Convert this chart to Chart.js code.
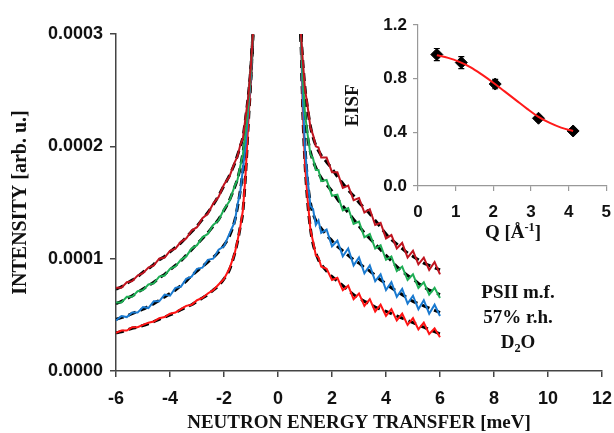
<!DOCTYPE html>
<html>
<head>
<meta charset="utf-8">
<script src="https://cdn.jsdelivr.net/npm/chart.js@4.4.0/dist/chart.umd.min.js"></script>
<style>
  body { margin: 0; background: #fff; }
  #wrap { position: relative; width: 614px; height: 433px; overflow: hidden; }
  #main { position: absolute; left: 0; top: 0; }
  #inset { position: absolute; left: 330px; top: 0; }
  .lbl { position: absolute; font-family: "Liberation Serif", "Times New Roman", serif; font-weight: bold; color: #111; text-align: center; white-space: nowrap; }
  .lbl sup { font-size: 0.65em; line-height: 0; vertical-align: 0.55em; }
  .lbl sub { font-size: 0.65em; line-height: 0; vertical-align: -0.3em; }
</style>
</head>
<body>
<div id="wrap">
  <canvas id="main" width="623" height="433"></canvas>
  <canvas id="inset" width="292" height="250"></canvas>
  <div class="lbl" style="left:453px; top:221px; width:120px; font-size:19px;">Q [Å<sup>-1</sup>]</div>
  <div class="lbl" style="left:448px; top:279px; width:140px; font-size:19px; line-height:25px;">PSII m.f.<br>57% r.h.<br>D<sub>2</sub>O</div>
</div>
<script>
// intensities are in units of 1e-4 (arb. u.)
const UNIT = 1e-4;

// energy transfer grids [meV]
const eLeft = [-6.0, -5.8, -5.6, -5.4, -5.2, -5.0, -4.8, -4.6, -4.4, -4.2, -4.0, -3.8, -3.6, -3.4, -3.2,
               -3.0, -2.8, -2.6, -2.4, -2.2, -2.0, -1.8, -1.6, -1.5, -1.4, -1.3, -1.2, -1.1, -1.0, -0.93];
const eRight = [0.85, 0.92, 1.0, 1.1, 1.2, 1.3, 1.4, 1.5, 1.6, 1.8, 2.0, 2.2, 2.4, 2.6, 2.8, 3.0,
                3.2, 3.4, 3.6, 3.8, 4.0, 4.2, 4.4, 4.6, 4.8, 5.0, 5.2, 5.4, 5.6, 5.8, 6.0];

// measured spectra
const darkRedLeft = [0.74, 0.74, 0.79, 0.80, 0.85, 0.87, 0.92, 0.94, 1.00, 1.01, 1.07, 1.09, 1.15, 1.18, 1.25,
                     1.28, 1.36, 1.40, 1.49, 1.55, 1.66, 1.73, 1.86, 1.91, 2.01, 2.07, 2.26, 2.44, 2.73, 3.0];
const greenLeft = [0.61, 0.61, 0.66, 0.66, 0.71, 0.72, 0.77, 0.78, 0.84, 0.85, 0.91, 0.93, 0.99, 1.02, 1.09,
                   1.12, 1.19, 1.22, 1.30, 1.34, 1.44, 1.51, 1.65, 1.70, 1.82, 1.93, 2.13, 2.37, 2.69, 3.0];
const blueLeft = [0.45, 0.49, 0.48, 0.52, 0.52, 0.57, 0.56, 0.62, 0.62, 0.68, 0.67, 0.74, 0.75, 0.82, 0.84,
                  0.91, 0.92, 0.99, 1.00, 1.08, 1.11, 1.22, 1.33, 1.48, 1.59, 1.80, 2.01, 2.33, 2.64, 3.0];
const redLeft = [0.34, 0.36, 0.36, 0.39, 0.39, 0.41, 0.43, 0.44, 0.47, 0.48, 0.51, 0.52, 0.55, 0.58, 0.59,
                 0.63, 0.65, 0.69, 0.72, 0.77, 0.82, 0.91, 1.05, 1.16, 1.28, 1.43, 1.75, 2.21, 2.62, 3.0];

const darkRedRight = [3.0, 2.76, 2.51, 2.35, 2.17, 2.10, 2.00, 1.99, 1.90, 1.90, 1.77, 1.77, 1.63, 1.65, 1.52, 1.54,
                      1.41, 1.44, 1.30, 1.32, 1.18, 1.21, 1.09, 1.14, 1.01, 1.07, 0.95, 1.01, 0.90, 0.97, 0.86];
const greenRight = [3.0, 2.61, 2.29, 2.10, 1.93, 1.89, 1.79, 1.79, 1.69, 1.70, 1.56, 1.57, 1.43, 1.45, 1.31, 1.33,
                    1.19, 1.22, 1.09, 1.12, 0.99, 1.02, 0.89, 0.93, 0.81, 0.86, 0.74, 0.79, 0.68, 0.74, 0.65];
const blueRight = [3.0, 2.42, 1.98, 1.70, 1.47, 1.44, 1.30, 1.34, 1.23, 1.26, 1.11, 1.16, 1.02, 1.09, 0.94, 1.01,
                   0.87, 0.94, 0.80, 0.86, 0.72, 0.79, 0.66, 0.73, 0.60, 0.67, 0.55, 0.63, 0.51, 0.59, 0.49];
const redRight = [3.0, 2.31, 1.84, 1.52, 1.26, 1.15, 1.03, 1.01, 0.93, 0.91, 0.81, 0.83, 0.72, 0.76, 0.64, 0.69,
                  0.58, 0.64, 0.53, 0.59, 0.49, 0.55, 0.45, 0.51, 0.41, 0.47, 0.37, 0.43, 0.33, 0.38, 0.30];

// fitted curves (dashed)
const fitDarkRedLeft = [0.73, 0.75, 0.78, 0.81, 0.84, 0.88, 0.91, 0.95, 0.99, 1.02, 1.06, 1.10, 1.14, 1.19, 1.24,
                        1.29, 1.35, 1.41, 1.48, 1.56, 1.65, 1.74, 1.85, 1.92, 2.00, 2.08, 2.25, 2.45, 2.72, 3.0];
const fitGreenLeft = [0.60, 0.62, 0.645, 0.67, 0.70, 0.73, 0.76, 0.79, 0.83, 0.86, 0.90, 0.94, 0.98, 1.03, 1.08,
                      1.13, 1.18, 1.23, 1.29, 1.35, 1.43, 1.52, 1.64, 1.71, 1.81, 1.94, 2.12, 2.38, 2.68, 3.0];
const fitBlueLeft = [0.46, 0.475, 0.49, 0.51, 0.53, 0.55, 0.575, 0.60, 0.63, 0.66, 0.69, 0.72, 0.76, 0.80, 0.85,
                     0.89, 0.93, 0.97, 1.01, 1.06, 1.12, 1.20, 1.34, 1.46, 1.60, 1.78, 2.02, 2.32, 2.65, 3.0];
const fitRedLeft = [0.34, 0.35, 0.365, 0.38, 0.39, 0.405, 0.42, 0.44, 0.46, 0.48, 0.50, 0.52, 0.545, 0.57, 0.59,
                    0.62, 0.65, 0.68, 0.72, 0.76, 0.82, 0.90, 1.05, 1.15, 1.28, 1.42, 1.75, 2.20, 2.62, 3.0];

const fitDarkRedRight = [3.0, 2.75, 2.52, 2.33, 2.18, 2.08, 2.01, 1.96, 1.92, 1.86, 1.80, 1.73, 1.67, 1.61, 1.56, 1.50,
                         1.45, 1.40, 1.34, 1.28, 1.22, 1.17, 1.13, 1.09, 1.05, 1.02, 0.99, 0.96, 0.94, 0.92, 0.90];
const fitGreenRight = [3.0, 2.6, 2.3, 2.08, 1.95, 1.87, 1.81, 1.76, 1.72, 1.66, 1.60, 1.53, 1.47, 1.41, 1.35, 1.29,
                       1.23, 1.18, 1.13, 1.08, 1.03, 0.98, 0.93, 0.89, 0.85, 0.82, 0.78, 0.75, 0.72, 0.70, 0.68];
const fitBlueRight = [3.0, 2.4, 2.0, 1.68, 1.50, 1.40, 1.34, 1.30, 1.27, 1.21, 1.16, 1.11, 1.07, 1.03, 0.99, 0.96,
                      0.92, 0.89, 0.85, 0.81, 0.78, 0.74, 0.71, 0.68, 0.65, 0.62, 0.60, 0.58, 0.56, 0.54, 0.52];
const fitRedRight = [3.0, 2.3, 1.85, 1.50, 1.27, 1.13, 1.05, 0.99, 0.95, 0.89, 0.84, 0.80, 0.76, 0.72, 0.68, 0.65,
                     0.62, 0.60, 0.57, 0.55, 0.53, 0.51, 0.49, 0.47, 0.45, 0.43, 0.41, 0.39, 0.37, 0.35, 0.33];

const yTicks = ['0.0000', '0.0001', '0.0002', '0.0003'];

// inset: EISF vs Q
const qPoints = [0.5, 1.15, 2.05, 3.2, 4.12];
const eisfPoints = [0.98, 0.92, 0.76, 0.505, 0.41];
const eisfErrors = [0.045, 0.045, 0.035, 0.02, 0.015];
const qFit = [0.5, 0.8, 1.1, 1.4, 1.7, 2.0, 2.3, 2.6, 2.9, 3.2, 3.5, 3.8, 4.12];
const eisfFit = [0.975, 0.955, 0.925, 0.885, 0.83, 0.77, 0.705, 0.64, 0.575, 0.515, 0.47, 0.435, 0.41];

const colors = { darkRed: '#c0141f', green: '#1fae55', blue: '#1a7ad0', red: '#ff1414' };
const sansBold = { family: 'Liberation Sans, Arial, sans-serif', weight: 'bold' };
const serifBold = { family: 'Liberation Serif, Times New Roman, serif', weight: 'bold' };

function toPoints(xs, ys, scale) {
    return xs.map((x, i) => ({ x: x, y: ys[i] * scale }));
}

function measured(xs, ys, color) {
    return { data: toPoints(xs, ys, UNIT), borderColor: color, borderWidth: 2, pointRadius: 0, tension: 0 };
}

function fitted(xs, ys) {
    return { data: toPoints(xs, ys, UNIT), borderColor: '#000', borderWidth: 3, borderDash: [8, 5],
             pointRadius: 0, cubicInterpolationMode: 'monotone' };
}

// canvas is a bit wider than the page so that the plot area (after label padding) ends at x = 600
new Chart(document.getElementById('main'), {
    type: 'line',
    data: {
        datasets: [
            measured(eLeft, darkRedLeft, colors.darkRed),
            measured(eLeft, greenLeft, colors.green),
            measured(eLeft, blueLeft, colors.blue),
            measured(eLeft, redLeft, colors.red),
            measured(eRight, darkRedRight, colors.darkRed),
            measured(eRight, greenRight, colors.green),
            measured(eRight, blueRight, colors.blue),
            measured(eRight, redRight, colors.red),
            fitted(eLeft, fitDarkRedLeft),
            fitted(eLeft, fitGreenLeft),
            fitted(eLeft, fitBlueLeft),
            fitted(eLeft, fitRedLeft),
            fitted(eRight, fitDarkRedRight),
            fitted(eRight, fitGreenRight),
            fitted(eRight, fitBlueRight),
            fitted(eRight, fitRedRight)
        ]
    },
    options: {
        responsive: false,
        animation: false,
        layout: { padding: { top: 34, right: 5, left: 0, bottom: 0 } },
        plugins: { legend: { display: false }, tooltip: { enabled: false } },
        scales: {
            x: {
                type: 'linear', min: -6, max: 12,
                ticks: { stepSize: 2, color: '#111', padding: 11, font: { ...sansBold, size: 18 } },
                grid: { drawOnChartArea: false, tickLength: 6, color: '#444', lineWidth: 1.5 },
                border: { color: '#444', width: 1.5 },
                title: { display: true, text: 'NEUTRON ENERGY TRANSFER [meV]', color: '#111',
                         font: { ...serifBold, size: 19, lineHeight: 1 }, padding: { top: 0, bottom: 0 } },
                afterFit: s => { s.height = 62; }
            },
            y: {
                min: 0, max: 3 * UNIT,
                ticks: { stepSize: UNIT, color: '#111', padding: 7, font: { ...sansBold, size: 18 },
                         callback: (v) => yTicks[Math.round(v / UNIT)] },
                grid: { drawOnChartArea: false, tickLength: 6, color: '#444', lineWidth: 1.5 },
                border: { color: '#444', width: 1.5 },
                title: { display: true, text: 'INTENSITY [arb. u.]', color: '#111',
                         font: { ...serifBold, size: 20 }, padding: { top: 9, bottom: 0 } },
                afterFit: s => { s.width = 116; }
            }
        }
    }
});

const errorBars = {
    id: 'errorBars',
    beforeDatasetsDraw(chart) {
        const { ctx, scales: { x, y } } = chart;
        ctx.save();
        ctx.strokeStyle = '#000';
        ctx.lineWidth = 1.2;
        qPoints.forEach((q, i) => {
            const px = x.getPixelForValue(q);
            const top = y.getPixelForValue(eisfPoints[i] + eisfErrors[i]);
            const bot = y.getPixelForValue(eisfPoints[i] - eisfErrors[i]);
            ctx.beginPath();
            ctx.moveTo(px, top); ctx.lineTo(px, bot);
            ctx.moveTo(px - 3, top); ctx.lineTo(px + 3, top);
            ctx.moveTo(px - 3, bot); ctx.lineTo(px + 3, bot);
            ctx.stroke();
        });
        ctx.restore();
    }
};

new Chart(document.getElementById('inset'), {
    type: 'line',
    data: {
        datasets: [
            { data: qFit.map((q, i) => ({ x: q, y: eisfFit[i] })), borderColor: '#ff1a1a', borderWidth: 2,
              pointRadius: 0, cubicInterpolationMode: 'monotone' },
            { data: qPoints.map((q, i) => ({ x: q, y: eisfPoints[i] })), showLine: false,
              pointStyle: 'rectRot', pointRadius: 6, backgroundColor: '#000', borderColor: '#000' }
        ]
    },
    options: {
        responsive: false,
        animation: false,
        layout: { padding: { top: 25, right: 0, left: 0, bottom: 0 } },
        plugins: { legend: { display: false }, tooltip: { enabled: false } },
        scales: {
            x: {
                type: 'linear', min: 0, max: 5,
                ticks: { stepSize: 1, color: '#111', padding: 11, font: { ...sansBold, size: 17 } },
                grid: { drawOnChartArea: false, tickLength: 5, color: '#999', lineWidth: 1.2 },
                border: { color: '#999', width: 1.2 },
                afterFit: s => { s.height = 64; }
            },
            y: {
                min: 0, max: 1.2,
                ticks: { stepSize: 0.4, color: '#111', padding: 6, font: { ...sansBold, size: 17 },
                         callback: (v) => v.toFixed(1) },
                grid: { drawOnChartArea: false, tickLength: 5, color: '#999', lineWidth: 1.2 },
                border: { color: '#999', width: 1.2 },
                title: { display: true, text: 'EISF', color: '#111',
                         font: { ...serifBold, size: 19 }, padding: { top: 12, bottom: 0 } },
                afterFit: s => { s.width = 88; }
            }
        }
    },
    plugins: [errorBars]
});
</script>
</body>
</html>
